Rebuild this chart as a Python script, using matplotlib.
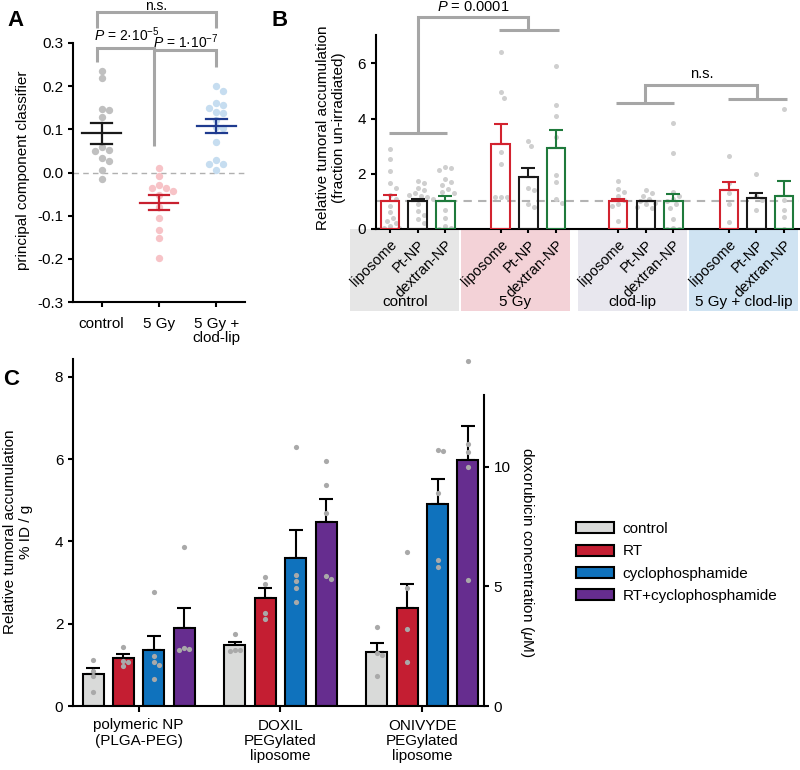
import numpy as np
import matplotlib
matplotlib.use('Agg')
import matplotlib.pyplot as plt
import matplotlib.transforms as mtransforms
from matplotlib.patches import Rectangle, Patch

plt.rcParams['font.family'] = ['Liberation Sans', 'DejaVu Sans']
plt.rcParams['mathtext.fontset'] = 'custom'
plt.rcParams['mathtext.rm'] = 'Liberation Sans'
plt.rcParams['mathtext.it'] = 'Liberation Sans:italic'
plt.rcParams['font.size'] = 11
plt.rcParams['axes.linewidth'] = 1.5
plt.rcParams['xtick.major.width'] = 1.5
plt.rcParams['ytick.major.width'] = 1.5
plt.rcParams['xtick.major.size'] = 3.5
plt.rcParams['ytick.major.size'] = 3.5

# ---------------- data ----------------
# panel A: principal component classifier
a_labels = ['control', '5 Gy', '5 Gy +\nclod-lip']
a_control = [0.235, 0.219, 0.148, 0.144, 0.129, 0.059, 0.052, 0.049, 0.033, 0.026, 0.005, -0.014]
a_5gy = [0.010, -0.007, -0.028, -0.035, -0.035, -0.042, -0.053, -0.079, -0.106, -0.133, -0.152, -0.197]
a_clod = [0.200, 0.189, 0.162, 0.156, 0.150, 0.140, 0.137, 0.122, 0.105, 0.104, 0.070, 0.030, 0.020, 0.020, 0.005]
a_mean = [0.091, -0.070, 0.107]
a_sem = [0.024, 0.018, 0.016]

# panel B: relative tumoral accumulation
b_groups = ['control', '5 Gy', 'clod-lip', '5 Gy + clod-lip']
b_particles = ['liposome', 'Pt-NP', 'dextran-NP']
b_mean = [[1.00, 1.00, 1.00], [3.08, 1.88, 2.95], [1.00, 1.00, 1.00], [1.42, 1.13, 1.19]]
b_sem = [[0.23, 0.09, 0.20], [0.72, 0.32, 0.64], [0.09, 0.03, 0.26], [0.29, 0.16, 0.55]]
b_ctrl_pts = [[2.9, 2.55, 2.1, 1.65, 1.5, 1.25, 1.1, 0.85, 0.6, 0.4, 0.3, 0.2, 0.1, 0.05, 0.02, 0.0],
              [1.75, 1.65, 1.5, 1.4, 1.3, 1.25, 1.2, 1.15, 1.1, 0.9, 0.65, 0.5, 0.35, 0.2],
              [2.25, 2.2, 2.15, 1.8, 1.7, 1.6, 1.45, 1.35, 1.3, 0.7, 0.4, 0.1, 0.05, 0.0]]
b_5gy_pts = [[6.4, 4.95, 4.75, 2.8, 2.35, 1.15, 1.15, 1.15],
             [3.2, 3.0, 1.5, 1.4, 0.9, 0.8],
             [5.9, 4.5, 4.1, 3.35, 1.95, 1.7, 1.1, 0.95]]
b_clod_pts = [[1.75, 1.45, 1.35, 1.2, 1.05, 0.9, 0.85, 0.3],
              [1.4, 1.3, 1.2, 1.1, 1.0, 0.95, 0.9, 0.8, 0.75],
              [3.85, 2.75, 1.35, 1.2, 1.1, 1.0, 0.9, 0.75, 0.35, 0.05, 0.0, 0.0]]
b_5gyclod_pts = [[2.65, 1.65, 1.3, 0.9, 0.25],
                 [2.0, 1.2, 1.05, 0.7],
                 [4.35, 1.05, 0.7, 0.45, 0.0]]

# panel C: %ID/g per nanoparticle
c_labels = ['polymeric NP\n(PLGA-PEG)', 'DOXIL\nPEGylated\nliposome', 'ONIVYDE\nPEGylated\nliposome']
c_series = ['control', 'RT', 'cyclophosphamide', 'RT+cyclophosphamide']
c_control = [0.78, 1.48, 1.31]
c_rt = [1.16, 2.62, 2.38]
c_cyclo = [1.35, 3.59, 4.91]
c_combo = [1.89, 4.47, 5.99]
c_control_sem = [0.15, 0.08, 0.23]
c_rt_sem = [0.10, 0.24, 0.59]
c_cyclo_sem = [0.36, 0.68, 0.62]
c_combo_sem = [0.49, 0.57, 0.82]
c_control_pts = [[1.13, 0.86, 0.73, 0.35], [1.75, 1.37, 1.34, 1.37], [1.91, 1.30, 1.25, 0.74]]
c_rt_pts = [[1.44, 1.10, 1.08, 0.97], [3.13, 2.96, 2.27, 2.11], [3.74, 2.87, 1.87, 1.08]]
c_cyclo_pts = [[2.77, 1.22, 1.06, 0.99, 0.66], [6.30, 3.19, 3.03, 2.88, 2.53], [6.20, 6.23, 5.19, 3.37, 3.55]]
c_combo_pts = [[3.87, 1.38, 1.35, 1.40], [5.96, 5.38, 4.70, 3.10, 3.15], [8.38, 6.36, 6.17, 5.82, 3.07]]

GRAY = '#a6a6a6'


def swarm(ax, x0, vals, diam):
    # horizontal offsets so dots of `diam` pixels don't overlap
    vals = np.asarray(vals, float)
    xscale = ax.transData.transform((x0 + 1, 0))[0] - ax.transData.transform((x0, 0))[0]
    ypix = ax.transData.transform(np.column_stack([np.full(len(vals), x0), vals]))[:, 1]
    step = diam / 2
    cands = [0] + [s * k * step for k in range(1, 30) for s in (1, -1)]
    placed = []
    off = np.zeros(len(vals))
    for i in np.argsort(-vals, kind='stable'):
        for c in cands:
            if all((c - px) ** 2 + (ypix[i] - py) ** 2 >= (diam * 0.95) ** 2 for px, py in placed):
                off[i] = c
                break
        placed.append((off[i], ypix[i]))
    return x0 + off / xscale


def bracket(ax, xs, ys):
    ax.plot(xs, ys, color=GRAY, lw=2.2, clip_on=False, solid_capstyle='butt',
            solid_joinstyle='miter', zorder=6)


fig = plt.figure(figsize=(8, 7.7), dpi=100)
W, H = 800, 770


def px_axes(x0, y0, x1, y1):
    return fig.add_axes([x0 / W, 1 - y1 / H, (x1 - x0) / W, (y1 - y0) / H])


# ---------------- panel A ----------------
axA = px_axes(73, 43, 245, 302)
axA.set_xlim(-0.5, 2.5)
axA.set_ylim(-0.3, 0.3)
for s in ['top', 'right']:
    axA.spines[s].set_visible(False)
axA.axhline(0, color='#b0b0b0', lw=1, ls=(0, (4, 3)), zorder=0)
a_pts = [a_control, a_5gy, a_clod]
a_dot = ['#c0c0c0', '#f7c3c7', '#c6ddf0']
a_line = ['#1a1a1a', '#c8202f', '#1f3b8f']
for i in range(3):
    xs = swarm(axA, i, a_pts[i], 7)
    axA.scatter(xs, a_pts[i], s=28, color=a_dot[i], lw=0, zorder=2)
    m, e = a_mean[i], a_sem[i]
    axA.plot([i - 0.34, i + 0.34], [m, m], color=a_line[i], lw=1.6, zorder=3)
    axA.plot([i, i], [m - e, m + e], color=a_line[i], lw=1.6, zorder=3)
    for y in (m - e, m + e):
        axA.plot([i - 0.18, i + 0.18], [y, y], color=a_line[i], lw=1.6, zorder=3)
axA.set_xticks([0, 1, 2])
axA.set_xticklabels(a_labels, linespacing=1.05)
axA.tick_params(axis='x', pad=7)
axA.set_yticks(np.round(np.arange(-0.3, 0.31, 0.1), 1))
axA.set_yticklabels(['%.1f' % v for v in np.arange(-0.3, 0.31, 0.1)])
bracket(axA, [-0.087, -0.087, 1.995, 1.995], [0.334, 0.371, 0.371, 0.334])
bracket(axA, [-0.087, -0.087, 0.91, 0.91], [0.2565, 0.289, 0.289, 0.061])
bracket(axA, [0.91, 1.995, 1.995], [0.284, 0.284, 0.245])
axA.text(0.955, 0.3775, 'n.s.', ha='center', va='baseline', fontsize=10)
axA.text(0.44, 0.319, r'$P$ = 2·10$^{-5}$', ha='center', va='center', fontsize=10)
axA.text(1.47, 0.303, r'$P$ = 1·10$^{-7}$', ha='center', va='center', fontsize=10)
fig.text(23 / W, 1 - 170 / H, 'principal component classifier', rotation=90,
         ha='center', va='center', fontsize=11)
fig.text(15 / W, 1 - 21 / H, 'A', fontsize=16, fontweight='bold', ha='center', va='center')

# ---------------- panel B ----------------
axB = px_axes(375.7, 35, 799, 229)
axB.set_xlim(-0.52, 14.79)
axB.set_ylim(0, 7.03)
for s in ['top', 'right']:
    axB.spines[s].set_visible(False)
axB.axhline(1, color='#b3b3b3', lw=1.5, ls=(0, (4, 3)), zorder=0.5)
b_pts = [b_ctrl_pts, b_5gy_pts, b_clod_pts, b_5gyclod_pts]
b_edge = ['#d2232f', '#1a1a1a', '#1f7a3c']
b_box = ['#e6e6e6', '#f3d2d7', '#e8e7ee', '#cfe3f2']
group_start = [0, 4, 8.25, 12.25]
ticks, ticklabels = [], []
blend = mtransforms.blended_transform_factory(axB.transData, axB.transAxes)
for g in range(4):
    x = np.array(group_start[g]) + np.arange(3)
    ticks += list(x)
    ticklabels += b_particles
    center = x.mean() - 0.47
    axB.add_patch(Rectangle((center - 1.97, -0.423), 3.94, 0.423, transform=blend,
                            facecolor=b_box[g], edgecolor='none', clip_on=False, zorder=0))
    axB.text(center, -0.378, b_groups[g], transform=blend, ha='center', va='center', fontsize=11)
    for k in range(3):
        xs = swarm(axB, x[k], b_pts[g][k], 6)
        axB.scatter(xs, b_pts[g][k], s=13, color='#cfcfcf', lw=0, zorder=1)
    axB.bar(x, b_mean[g], width=0.67, fill=False, edgecolor=b_edge, lw=1.5, zorder=3)
    for k in range(3):
        axB.errorbar(x[k], b_mean[g][k], yerr=[[0], [b_sem[g][k]]], color=b_edge[k],
                     lw=1.5, capsize=5, capthick=1.5, zorder=3)
axB.set_xticks(ticks)
axB.set_xticklabels(ticklabels, rotation=45, ha='right', rotation_mode='anchor', fontsize=10.5)
axB.tick_params(axis='x', length=3, pad=3)
axB.set_yticks([0, 2, 4, 6])
bracket(axB, [-0.05, 2.05], [3.47, 3.47])
bracket(axB, [1, 1, 5, 5], [3.47, 7.69, 7.69, 7.22])
bracket(axB, [3.95, 6.1], [7.22, 7.22])
bracket(axB, [8.17, 10.28], [4.55, 4.55])
bracket(axB, [9.22, 9.22, 13.26, 13.26], [4.55, 5.22, 5.22, 4.71])
bracket(axB, [12.21, 14.35], [4.71, 4.71])
axB.text(3.0, 8.05, r'$P$ = 0.0001', ha='center', va='center', fontsize=10.5)
axB.text(11.27, 5.6, 'n.s.', ha='center', va='center', fontsize=10.5)
fig.text(331 / W, 1 - 128 / H, 'Relative tumoral accumulation\n(fraction un-irradiated)',
         rotation=90, ha='center', va='center', fontsize=11, linespacing=1.15)
fig.text(280 / W, 1 - 21 / H, 'B', fontsize=16, fontweight='bold', ha='center', va='center')

# ---------------- panel C ----------------
axC = px_axes(73, 359.3, 484, 706)
axC.set_xlim(-0.463, 2.435)
axC.set_ylim(0, 8.43)
for s in ['top', 'right']:
    axC.spines[s].set_visible(False)
c_vals = [c_control, c_rt, c_cyclo, c_combo]
c_sems = [c_control_sem, c_rt_sem, c_cyclo_sem, c_combo_sem]
c_pts = [c_control_pts, c_rt_pts, c_cyclo_pts, c_combo_pts]
c_colors = ['#d9dad9', '#c41e32', '#0f72bd', '#662d8f']
step = 0.2144
for k in range(4):
    x = np.arange(3) + (k - 1.5) * step
    axC.bar(x, c_vals[k], width=0.148, color=c_colors[k], edgecolor='black', lw=1.5, zorder=2)
    axC.errorbar(x, c_vals[k], yerr=[np.zeros(3), c_sems[k]], fmt='none', ecolor='black',
                 elinewidth=1.5, capsize=5, capthick=1.5, zorder=1)
    for g in range(3):
        xs = swarm(axC, x[g], c_pts[k][g], 5)
        axC.scatter(xs, c_pts[k][g], s=14, color='#a9a9a9', lw=0, zorder=3)
axC.set_xticks([0, 1, 2])
axC.set_xticklabels(c_labels, linespacing=1.1)
axC.tick_params(axis='x', length=4, pad=5)
axC.set_yticks([0, 2, 4, 6, 8])
axC2 = axC.twinx()
axC2.set_ylim(0, 14.5)
for s in ['top', 'left', 'bottom']:
    axC2.spines[s].set_visible(False)
axC2.spines['right'].set_bounds(0, 13)
axC2.set_yticks([0, 5, 10])
fig.text(18 / W, 1 - 532 / H, 'Relative tumoral accumulation\n% ID / g', rotation=90,
         ha='center', va='center', fontsize=11, linespacing=1.2)
fig.text(527 / W, 1 - 552 / H, r'doxorubicin concentration ($\mu$M)', rotation=270,
         ha='center', va='center', fontsize=11)
fig.text(11 / W, 1 - 380 / H, 'C', fontsize=16, fontweight='bold', ha='center', va='center')

handles = [Patch(facecolor=c, edgecolor='black', lw=1.5, label=l) for c, l in zip(c_colors, c_series)]
fig.legend(handles=handles, loc='upper left', bbox_to_anchor=(575.7 / W, 1 - 522 / H),
           frameon=False, handlelength=2.5, handleheight=0.72, handletextpad=0.55,
           labelspacing=0.55, borderpad=0, borderaxespad=0, fontsize=11)

fig.savefig('out.png', dpi=100)
